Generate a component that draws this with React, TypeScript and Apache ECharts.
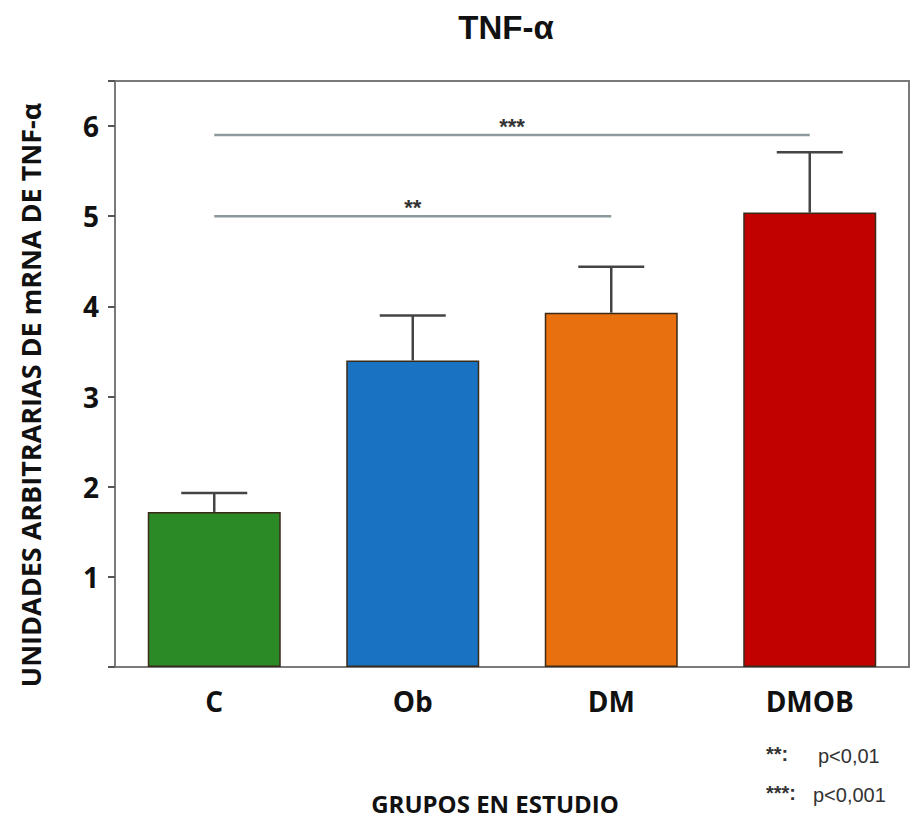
import React, { useEffect, useRef } from "react";
import * as echarts from "echarts";

const categories = ["C", "Ob", "DM", "DMOB"];
const meanValues = [1.72, 3.4, 3.93, 5.04];
const errorUpper = [1.93, 3.9, 4.44, 5.71];
const barColors = ["#2b8a26", "#1a72c2", "#e8700f", "#c10000"];
const yTicks = [1, 2, 3, 4, 5, 6];

const sigFrom = [0, 0];
const sigTo = [2, 3];
const sigY = [5.0, 5.9];
const sigLabels = ["**", "***"];

const legendKeys = ["**:", "***:"];
const legendTexts = ["p<0,01", "p<0,001"];

export default function App() {
  const ref = useRef<HTMLDivElement>(null);
  useEffect(() => {
    if (!ref.current) return;
    const chart = echarts.init(ref.current, null, { renderer: "svg" });
    const bold = "'Open Sans', 'Noto Sans', sans-serif";
    const legFont = "20px 'Liberation Sans', Arial, sans-serif";
    const starFont = "bold 20px 'Liberation Sans', Arial, sans-serif";
    chart.setOption({
      animation: false,
      backgroundColor: "#ffffff",
      grid: {
        left: 115,
        top: 81,
        right: 3,
        bottom: 155,
        show: true,
        borderColor: "#7a7a7a",
        borderWidth: 2,
        containLabel: false,
        outerBoundsMode: "none",
      },
      xAxis: {
        type: "category",
        data: categories,
        axisLine: { lineStyle: { color: "#7a7a7a", width: 2 } },
        axisTick: { alignWithLabel: true, length: 8, lineStyle: { color: "#555", width: 2 } },
        axisLabel: {
          margin: 20,
          fontFamily: bold,
          fontWeight: "bold",
          fontSize: 28,
          color: "#111",
        },
      },
      yAxis: {
        type: "value",
        min: 0,
        max: 6.5,
        interval: 1,
        axisLine: { show: true, lineStyle: { color: "#7a7a7a", width: 2 } },
        axisTick: { show: true, length: 7, lineStyle: { color: "#555", width: 2 } },
        splitLine: { show: false },
        axisLabel: {
          margin: 16,
          fontFamily: bold,
          fontWeight: "bold",
          fontSize: 28,
          color: "#111",
          formatter: (v: number) => (yTicks.indexOf(v) >= 0 ? String(v) : ""),
        },
      },
      graphic: [
        {
          type: "text",
          x: 506,
          y: 27,
          style: {
            text: "TNF-α",
            font: "bold 33px 'Liberation Sans', Arial, sans-serif",
            fill: "#111",
            align: "center",
            verticalAlign: "middle",
          },
        },
        {
          type: "text",
          x: 30,
          y: 395,
          rotation: Math.PI / 2,
          style: {
            text: "UNIDADES ARBITRARIAS DE mRNA DE TNF-α",
            font: "bold 27px 'Open Sans', 'Noto Sans', sans-serif",
            fill: "#111",
            align: "center",
            verticalAlign: "middle",
          },
        },
        {
          type: "text",
          x: 495,
          y: 803,
          style: {
            text: "GRUPOS EN ESTUDIO",
            font: "bold 24px 'Open Sans', 'Noto Sans', sans-serif",
            fill: "#111",
            align: "center",
            verticalAlign: "middle",
          },
        },
        {
          type: "text",
          x: 766,
          y: 754,
          style: { text: legendKeys[0], font: starFont, fill: "#333", verticalAlign: "middle" },
        },
        {
          type: "text",
          x: 818,
          y: 756,
          style: { text: legendTexts[0], font: legFont, fill: "#333", verticalAlign: "middle" },
        },
        {
          type: "text",
          x: 766,
          y: 793,
          style: { text: legendKeys[1], font: starFont, fill: "#333", verticalAlign: "middle" },
        },
        {
          type: "text",
          x: 813,
          y: 795,
          style: { text: legendTexts[1], font: legFont, fill: "#333", verticalAlign: "middle" },
        },
      ],
      series: [
        {
          type: "bar",
          data: meanValues.map((v, i) => ({
            value: v,
            itemStyle: { color: barColors[i], borderColor: "#3a2a1a", borderWidth: 1.5 },
          })),
          barWidth: "67%",
          z: 2,
        },
        {
          type: "custom",
          z: 3,
          data: meanValues.map((v, i) => [i, v, errorUpper[i]]),
          renderItem: (params: any, api: any) => {
            const i = api.value(0);
            const lo = api.coord([i, api.value(1)]);
            const hi = api.coord([i, api.value(2)]);
            const half = 33;
            const style = { stroke: "#444", lineWidth: 2.5 };
            return {
              type: "group",
              children: [
                { type: "line", shape: { x1: lo[0], y1: lo[1], x2: hi[0], y2: hi[1] }, style },
                { type: "line", shape: { x1: hi[0] - half, y1: hi[1], x2: hi[0] + half, y2: hi[1] }, style },
              ],
            };
          },
        },
        {
          type: "custom",
          z: 4,
          data: sigY.map((y, k) => [sigFrom[k], sigTo[k], y, k]),
          renderItem: (params: any, api: any) => {
            const a = api.coord([api.value(0), api.value(2)]);
            const b = api.coord([api.value(1), api.value(2)]);
            const k = api.value(3);
            return {
              type: "group",
              children: [
                {
                  type: "line",
                  shape: { x1: a[0], y1: a[1], x2: b[0], y2: b[1] },
                  style: { stroke: "#8c9a9e", lineWidth: 2.5 },
                },
                {
                  type: "text",
                  x: (a[0] + b[0]) / 2,
                  y: a[1] - 9,
                  style: {
                    text: sigLabels[k],
                    font: "bold 22px 'Liberation Sans', Arial, sans-serif",
                    fill: "#333",
                    align: "center",
                    verticalAlign: "middle",
                  },
                },
              ],
            };
          },
        },
      ],
    });
    return () => chart.dispose();
  }, []);
  return (
    <div
      ref={ref}
      style={{ position: "fixed", left: 0, top: 0, width: 912, height: 822 }}
    />
  );
}
